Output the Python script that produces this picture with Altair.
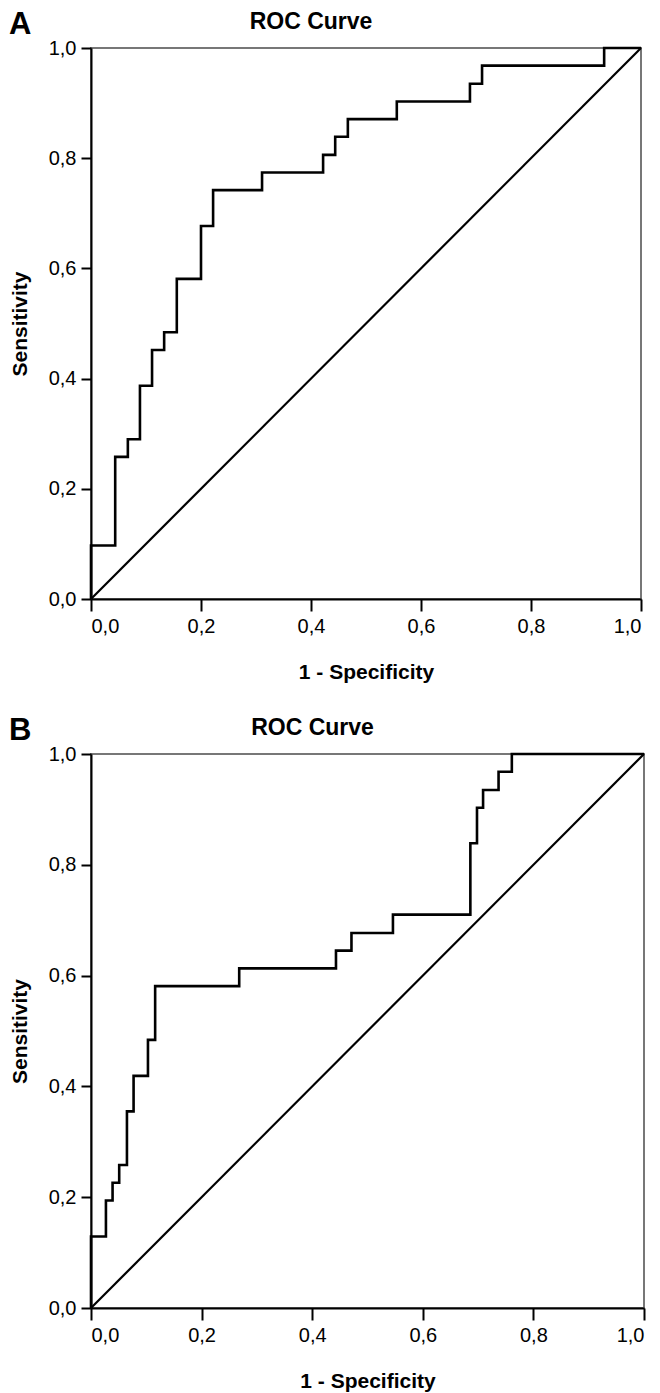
import altair as alt
import pandas as pd

# Panel A ROC coordinates (1 - specificity, sensitivity)
fpr_a = [0.0, 0.0, 0.044, 0.067, 0.089, 0.111, 0.133, 0.156, 0.200, 0.222,
         0.311, 0.422, 0.444, 0.467, 0.556, 0.689, 0.711, 0.933, 1.0]
tpr_a = [0.0, 0.097, 0.258, 0.290, 0.387, 0.452, 0.484, 0.581, 0.677, 0.742,
         0.774, 0.806, 0.839, 0.871, 0.903, 0.935, 0.968, 1.0, 1.0]

# Panel B ROC coordinates
fpr_b = [0.0, 0.0, 0.027, 0.039, 0.051, 0.065, 0.077, 0.103, 0.116, 0.268,
         0.443, 0.471, 0.546, 0.686, 0.698, 0.709, 0.737, 0.761, 1.0]
tpr_b = [0.0, 0.129, 0.194, 0.226, 0.258, 0.355, 0.419, 0.484, 0.581, 0.613,
         0.645, 0.677, 0.710, 0.839, 0.903, 0.935, 0.968, 1.0, 1.0]

# reference diagonal
ref_x = [0.0, 1.0]
ref_y = [0.0, 1.0]

tick_values = [0.0, 0.2, 0.4, 0.6, 0.8, 1.0]
panel_letters = ["A", "B"]
title_text = "ROC Curve"
x_title = "1 - Specificity"
y_title = "Sensitivity"

FONT = "Liberation Sans"
label_expr = "replace(format(datum.value, '.1f'), '.', ',')"


def panel(letter, fpr, tpr, w, h, letter_y, title_y):
    df = pd.DataFrame({"fpr": fpr, "tpr": tpr, "idx": list(range(len(fpr)))})
    ref = pd.DataFrame({"fpr": ref_x, "tpr": ref_y})
    lab = pd.DataFrame({"t": [letter]})
    ttl = pd.DataFrame({"t": [title_text]})

    x = alt.X(
        "fpr:Q",
        scale=alt.Scale(domain=[0, 1], nice=False),
        axis=alt.Axis(
            values=tick_values, labelExpr=label_expr, title=x_title,
            tickSize=12, labelPadding=5, titlePadding=25,
        ),
    )
    y = alt.Y(
        "tpr:Q",
        scale=alt.Scale(domain=[0, 1], nice=False),
        axis=alt.Axis(
            values=tick_values, labelExpr=label_expr, title=y_title,
            tickSize=10, labelPadding=5, titlePadding=18,
        ),
    )

    diag = alt.Chart(ref).mark_line(color="black", strokeWidth=2.2).encode(x=x, y=y)
    roc = alt.Chart(df).mark_line(
        interpolate="step-after", color="black", strokeWidth=2.6
    ).encode(x=x, y=y, order="idx:Q")
    letter_mark = alt.Chart(lab).mark_text(
        align="left", baseline="alphabetic", fontSize=31, fontWeight="bold",
        font=FONT, color="black",
    ).encode(text="t:N", x=alt.value(-82), y=alt.value(letter_y))
    title_mark = alt.Chart(ttl).mark_text(
        align="center", baseline="alphabetic", fontSize=23, fontWeight="bold",
        font=FONT, color="black",
    ).encode(text="t:N", x=alt.value(w / 2 - 55), y=alt.value(title_y))

    return alt.layer(diag, roc, letter_mark, title_mark).properties(
        width=w, height=h,
    )


chart = alt.vconcat(
    panel(panel_letters[0], fpr_a, tpr_a, 550, 551, -14, -19.5),
    panel(panel_letters[1], fpr_b, tpr_b, 553, 554, -14, -19.5),
    spacing=31,
).properties(padding=0).configure_view(
    stroke="#777777", strokeWidth=2
).configure_axis(
    domainColor="black", domainWidth=2, tickColor="black", tickWidth=2,
    labelFont=FONT, labelFontSize=20, labelColor="black",
    titleFont=FONT, titleFontSize=21, titleFontWeight="bold", titleColor="black",
    grid=False,
)

chart.save("out.html", embed_options={"renderer": "svg", "actions": False})
